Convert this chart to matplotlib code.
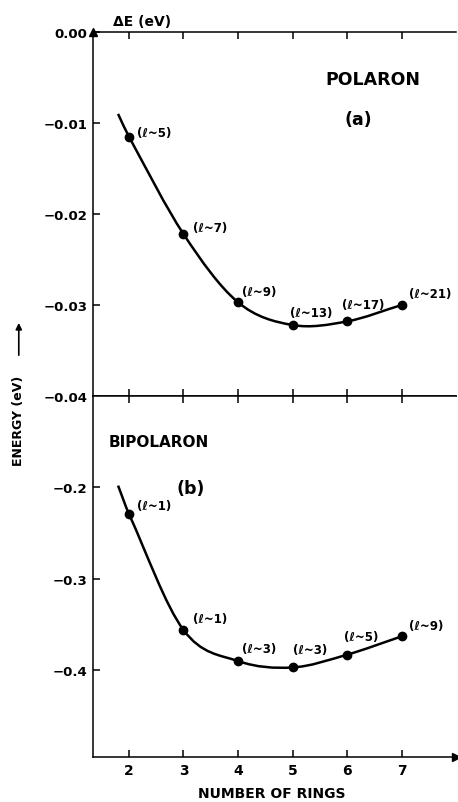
import matplotlib
matplotlib.use("Agg")
import matplotlib.pyplot as plt
from matplotlib.path import Path
from matplotlib.patches import PathPatch

plt.rcParams['font.family'] = ['DejaVu Sans']
plt.rcParams['font.weight'] = 'bold'

# values
rings = [2, 3, 4, 5, 6, 7]
polaron = [-0.0115, -0.0222, -0.0297, -0.0322, -0.0318, -0.0300]
bipolaron = [-0.229, -0.356, -0.390, -0.397, -0.383, -0.363]
pol_labels = ["(ℓ~5)", "(ℓ~7)", "(ℓ~9)", "(ℓ~13)", "(ℓ~17)", "(ℓ~21)"]
bip_labels = ["(ℓ~1)", "(ℓ~1)", "(ℓ~3)", "(ℓ~3)", "(ℓ~5)", "(ℓ~9)"]
# where the drawn curves start (left of the first point)
curve_x0 = 1.8
pol_y0 = -0.0090
bip_y0 = -0.198

# label offsets in points (layout only)
pol_off = [(6, 3), (7, 5), (3, 8), (-2, 9), (-4, 12), (5, 8)]
bip_off = [(6, 6), (7, 8), (3, 9), (0, 13), (-2, 13), (5, 8)]


def smooth_curve(ax, xs, ys):
    # cubic hermite pieces drawn as bezier segments
    n = len(xs)
    m = []
    for i in range(n):
        if i == 0:
            m.append((ys[1] - ys[0]) / (xs[1] - xs[0]))
        elif i == n - 1:
            m.append((ys[-1] - ys[-2]) / (xs[-1] - xs[-2]))
        else:
            m.append((ys[i + 1] - ys[i - 1]) / (xs[i + 1] - xs[i - 1]))
    verts = [(xs[0], ys[0])]
    codes = [Path.MOVETO]
    for i in range(n - 1):
        dx = xs[i + 1] - xs[i]
        verts += [(xs[i] + dx / 3, ys[i] + m[i] * dx / 3),
                  (xs[i + 1] - dx / 3, ys[i + 1] - m[i + 1] * dx / 3),
                  (xs[i + 1], ys[i + 1])]
        codes += [Path.CURVE4] * 3
    ax.add_patch(PathPatch(Path(verts, codes), fill=False, lw=1.8, color='black'))


fig = plt.figure(figsize=(4.58, 8.03), dpi=100)
ax1 = fig.add_axes([0.203, 0.5056, 0.793, 0.4533])
ax2 = fig.add_axes([0.203, 0.056, 0.793, 0.4496])

for ax in (ax1, ax2):
    ax.set_xlim(1.34, 8.0)
    ax.set_xticks(rings)
    ax.spines['right'].set_visible(False)
    for s in ('left', 'top', 'bottom'):
        ax.spines[s].set_linewidth(1.1)
    ax.tick_params(direction='in', length=5, width=1.1, top=True, bottom=True,
                   labelsize=9.5, pad=4)

ax1.set_ylim(-0.04, 0.0)
ax1.set_yticks([0.0, -0.01, -0.02, -0.03, -0.04])
ax1.set_yticklabels(["0.00", "−0.01", "−0.02", "−0.03", "−0.04"])
ax1.tick_params(labelbottom=False)
ax1.plot(0, 1, marker='^', color='black', ms=6, transform=ax1.transAxes, clip_on=False)

ax2.set_ylim(-0.495, -0.1)
ax2.set_yticks([-0.2, -0.3, -0.4])
ax2.set_yticklabels(["−0.2", "−0.3", "−0.4"])
ax2.set_xticklabels([str(r) for r in rings])
ax2.tick_params(axis='x', labelsize=10)
ax2.plot(1, 0, marker='>', color='black', ms=6, transform=ax2.transAxes, clip_on=False)

for ax, vals, y0, labs, offs in ((ax1, polaron, pol_y0, pol_labels, pol_off),
                                 (ax2, bipolaron, bip_y0, bip_labels, bip_off)):
    smooth_curve(ax, [curve_x0] + rings, [y0] + vals)
    ax.plot(rings, vals, 'o', color='black', ms=6)
    for x, y, t, o in zip(rings, vals, labs, offs):
        ax.annotate(t, (x, y), xytext=o, textcoords='offset points',
                    fontsize=8.5, ha='left', va='center')

ax1.text(0.77, 0.87, "POLARON", transform=ax1.transAxes, fontsize=12.5,
         ha='center', va='center')
ax1.text(0.73, 0.76, "(a)", transform=ax1.transAxes, fontsize=12.5,
         ha='center', va='center')
ax2.text(0.18, 0.875, "BIPOLARON", transform=ax2.transAxes, fontsize=11,
         ha='center', va='center')
ax2.text(0.27, 0.745, "(b)", transform=ax2.transAxes, fontsize=12.5,
         ha='center', va='center')

fig.text(0.31, 0.972, "ΔE (eV)", fontsize=10, ha='center', va='center')
fig.text(0.04, 0.476, "ENERGY (eV)", fontsize=9, rotation=90, ha='center', va='center')
fig.patches.append(matplotlib.patches.FancyArrowPatch(
    (0.041, 0.553), (0.041, 0.600), transform=fig.transFigure,
    arrowstyle='-|>', mutation_scale=9, lw=1.2, color='black'))
fig.text(0.594, 0.011, "NUMBER OF RINGS", fontsize=10, ha='center', va='center')

fig.savefig("out.png", dpi=100)
